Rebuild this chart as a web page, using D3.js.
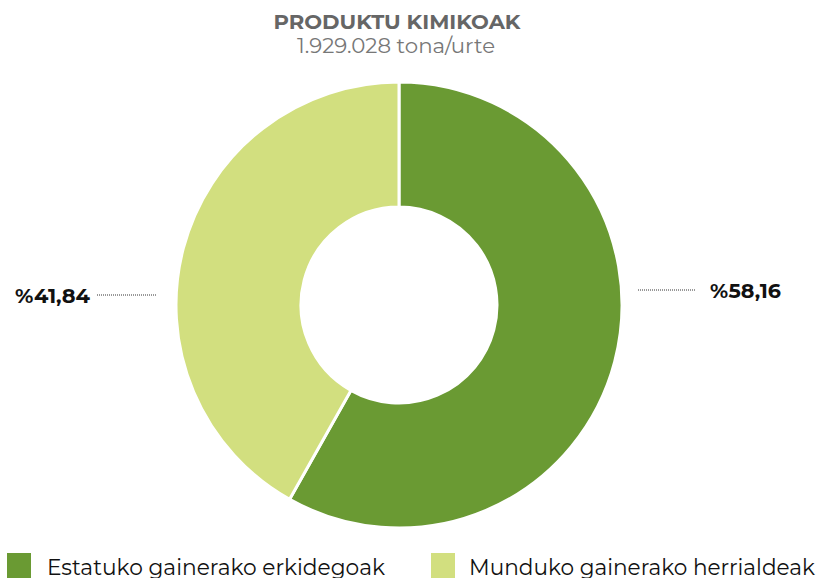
<!DOCTYPE html>
<html><head><meta charset="utf-8">
<script src="https://cdn.jsdelivr.net/npm/d3@7"></script>
<style>body{margin:0;background:#fff;} svg{display:block;}</style>
</head><body>
<svg id="c" width="819" height="578"></svg>
<script>
const categories = ["Estatuko gainerako erkidegoak", "Munduko gainerako herrialdeak"];
const values = [58.16, 41.84];
const labels = ["%58,16", "%41,84"];
const colors = ["#6a9a33", "#d2df7f"];
const title = "PRODUKTU KIMIKOAK";
const subtitle = "1.929.028 tona/urte";

const svg = d3.select("#c");
const font = "Montserrat, 'Noto Sans', 'Open Sans', sans-serif";
const cx = 399, cy = 305, rO = 223, rI = 98;

svg.append("text").attr("x", 397).attr("y", 29).attr("text-anchor", "middle")
  .attr("font-family", font).attr("font-weight", 700).attr("font-size", 20.5)
  .attr("fill", "#666").attr("textLength", 247).attr("lengthAdjust", "spacingAndGlyphs").text(title);
svg.append("text").attr("x", 396).attr("y", 53).attr("text-anchor", "middle")
  .attr("font-family", font).attr("font-size", 20.5)
  .attr("fill", "#777").attr("textLength", 198).attr("lengthAdjust", "spacingAndGlyphs").text(subtitle);

const pie = d3.pie().sort(null).value(d => d)(values);
const arc = d3.arc().innerRadius(rI).outerRadius(rO);
const g = svg.append("g").attr("transform", `translate(${cx},${cy})`);
g.selectAll("path").data(pie).join("path")
  .attr("d", arc).attr("fill", (d, i) => colors[i])
  .attr("stroke", "#fff").attr("stroke-width", 3);

// labels
const lab = [
  {x1: 638, x2: 696, y: 290, tx: 710, ty: 298, anchor: "start", w: 71},
  {x1: 97, x2: 156, y: 295, tx: 90, ty: 303, anchor: "end", w: 75}
];
lab.forEach((l, i) => {
  svg.append("line").attr("x1", l.x1).attr("x2", l.x2).attr("y1", l.y).attr("y2", l.y)
    .attr("stroke", "#333").attr("stroke-width", 1).attr("stroke-dasharray", "1,1");
  svg.append("text").attr("x", l.tx).attr("y", l.ty).attr("text-anchor", l.anchor)
    .attr("font-family", font).attr("font-weight", 700).attr("font-size", 20.5)
    .attr("fill", "#111").attr("textLength", l.w).attr("lengthAdjust", "spacingAndGlyphs")
    .text(labels[i]);
});

// legend
const leg = [{sx: 7, tx: 47}, {sx: 431, tx: 469}];
leg.forEach((l, i) => {
  svg.append("rect").attr("x", l.sx).attr("y", 553).attr("width", 24).attr("height", 30)
    .attr("fill", colors[i]);
  svg.append("text").attr("x", l.tx).attr("y", 575)
    .attr("font-family", font).attr("font-size", 22).attr("fill", "#111")
    .attr("textLength", i === 0 ? 338 : 346).attr("lengthAdjust", "spacingAndGlyphs")
    .text(categories[i]);
});
</script>
</body></html>
